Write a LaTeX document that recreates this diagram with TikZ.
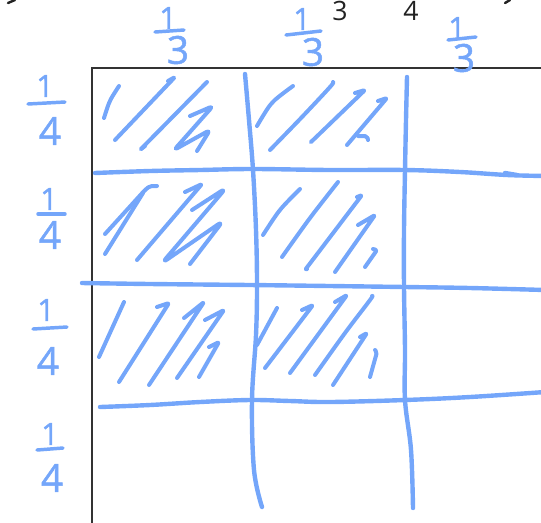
\documentclass[tikz,border=0pt]{standalone}
\usepackage{fontspec}
\setmainfont{Open Sans}
\newfontfamily\handfont[FakeBold=1.3]{Open Sans}
\definecolor{inkblue}{RGB}{116,166,250}
\definecolor{framegray}{RGB}{51,51,51}
\definecolor{txtblack}{RGB}{34,34,34}
\begin{document}
\begin{tikzpicture}[x=0.75pt,y=-0.75pt,
  ink/.style={draw=inkblue,line width=3.3pt,line cap=round,line join=round},
  hatch/.style={draw=inkblue,line width=3pt,line cap=round,line join=round,rounded corners=1.5pt},
  num/.style={text=inkblue,inner sep=0pt,font=\handfont\fontsize{23}{26}\selectfont},
  den/.style={text=inkblue,inner sep=0pt,font=\handfont\fontsize{29}{32}\selectfont},
  bar/.style={draw=inkblue,line width=2.6pt,line cap=round},
  blk/.style={text=txtblack,inner sep=0pt,font=\fontsize{20}{22}\selectfont}]
\useasboundingbox (0,0) rectangle (541,522);

% cut-off black text at top
\node[blk] (b3) at (340,11) {3};
\node[blk] (b4) at (411,11) {4};
\draw[txtblack,line width=1.8pt,line cap=round] (8,3) -- (15,0);
\draw[txtblack,line width=1.8pt,line cap=round] (505,3) -- (510,0);

% black frame
\draw[framegray,line width=2.2pt] (92,524) -- (92,68) -- (543,68);

% grid lines
\draw[ink] plot[smooth,tension=0.6] coordinates {(245,74) (249,120) (253,170) (256,230) (257,285) (256,335) (252,400) (254,470) (262,507)};
\draw[ink] plot[smooth,tension=0.6] coordinates {(407,77) (406,120) (405,170) (404,230) (404,287) (405,350) (405,400) (411,450) (413,508)};
\draw[ink] plot[smooth,tension=0.6] coordinates {(95,173) (150,171) (200,170) (253,169) (330,170) (405,170) (460,172) (507,175) (545,176)};
\draw[ink] (505,173) -- (517,175);
\draw[ink] plot[smooth,tension=0.6] coordinates {(82,283) (150,284) (250,285) (330,286) (405,287) (470,288) (545,290)};
\draw[ink] plot[smooth,tension=0.6] coordinates {(100,407) (150,405) (200,402) (250,400) (290,401) (330,402) (405,400) (470,397) (545,392)};

% hatching row 1, col 1
\draw[hatch] plot[smooth] coordinates {(104,118) (110,101) (119,86)};
\draw[hatch] (115,140) -- (175,77) -- (168,81);
\draw[hatch] (145,146) -- (140,150) -- (207,82);
\draw[hatch,rounded corners=3pt] (190,116) -- (213,106) -- (174,150) -- (210,130) -- (197,151);
% row 1, col 2
\draw[hatch] plot[smooth] coordinates {(257,126) (272,103) (293,86)};
\draw[hatch] plot[smooth] coordinates {(270,150) (302,117) (330,87) (333,82)};
\draw[hatch] (313,140) -- (310,143) -- (365,90) -- (355,93);
\draw[hatch] (347,145) -- (387,98) -- (378,101);
\draw[hatch] (358,136) -- (367,136) -- (368,140);
% row 2, col 1
\draw[hatch] (105,234) -- (145,190) -- (150,186) -- (157,186);
\draw[hatch] (105,254) -- (143,193);
\draw[hatch] (137,260) -- (202,184) -- (185,192);
\draw[hatch,rounded corners=5pt] (192,210) -- (226,188) -- (162,263) -- (223,221) -- (190,264);
% row 2, col 2
\draw[hatch] plot[smooth] coordinates {(263,235) (280,210) (300,189)};
\draw[hatch] plot[smooth] coordinates {(282,257) (310,218) (338,182)};
\draw[hatch] (307,269) -- (305,270) -- (362,195) -- (357,197);
\draw[hatch] (335,272) -- (375,215) -- (358,225);
\draw[hatch] (365,267) -- (377,250) -- (373,249);
% row 3, col 1
\draw[hatch] (99,357) -- (124,302);
\draw[hatch] (119,382) -- (169,303) -- (157,307);
\draw[hatch] (149,385) -- (204,302) -- (184,318);
\draw[hatch] (177,378) -- (224,310) -- (205,320);
\draw[hatch] (199,377) -- (219,342) -- (209,347);
% row 3, col 2
\draw[hatch] (257,345) -- (277,308);
\draw[hatch] (265,368) -- (313,305) -- (302,310);
\draw[hatch] (290,373) -- (347,295) -- (335,302);
\draw[hatch] plot[smooth] coordinates {(315,375) (345,333) (370,300) (372,296)};
\draw[hatch] (333,385) -- (367,333) -- (360,337);
\draw[hatch] (370,377) -- (377,352) -- (375,350);

% top fractions
\node[num] (t1n) at (168,18) {1};
\node[den] (t1d) at (178,50) {3};
\draw[bar] (155,32) -- (184,30);
\node[num] (t2n) at (302,19) {1};
\node[den] (t2d) at (313,52) {3};
\draw[bar] (286,35) -- (321,31);
\node[num] (t3n) at (457,28) {1};
\node[den] (t3d) at (464,58) {3};
\draw[bar] (448,40) -- (476,37);

% left fractions
\node[num] (l1n) at (45,86) {1};
\draw[bar] (28,104) -- (65,102);
\node[den] (l1d) at (50,131) {4};
\node[num] (l2n) at (49,199) {1};
\draw[bar] (38,214) -- (65,214);
\node[den] (l2d) at (50,235) {4};
\node[num] (l3n) at (46,310) {1};
\draw[bar] (33,329) -- (67,327);
\node[den] (l3d) at (48,361) {4};
\node[num] (l4n) at (50,434) {1};
\draw[bar] (37,450) -- (63,448);
\node[den] (l4d) at (52,478) {4};
\end{tikzpicture}
\end{document}
